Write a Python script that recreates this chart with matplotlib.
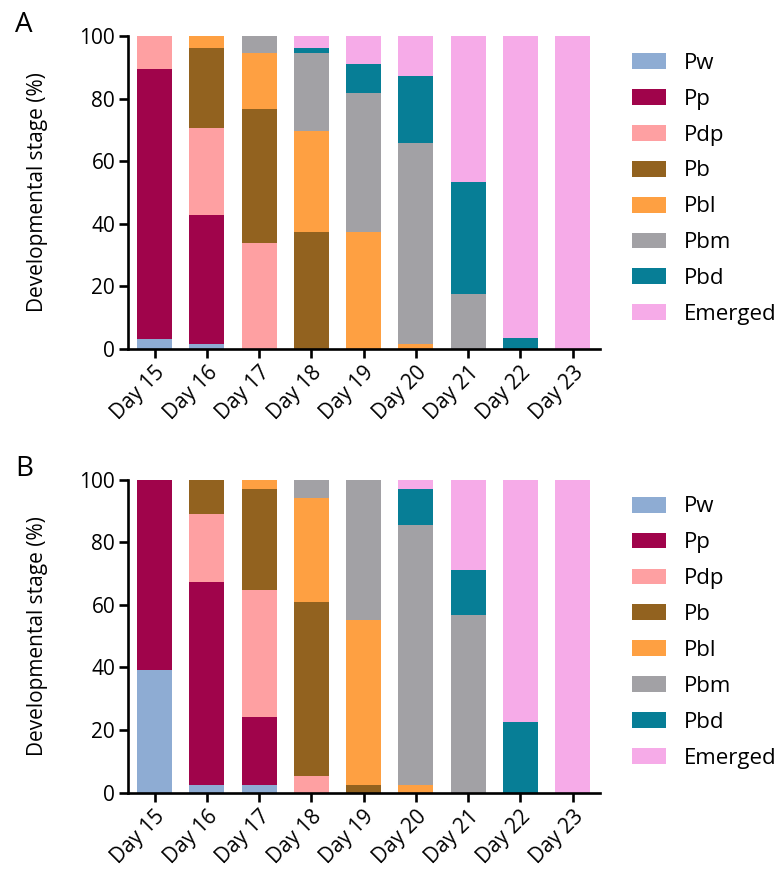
import numpy as np
import matplotlib
matplotlib.use("Agg")
import matplotlib.pyplot as plt
from matplotlib.patches import Patch

plt.rcParams['font.family'] = ['Open Sans', 'DejaVu Sans']

days = ["Day 15", "Day 16", "Day 17", "Day 18", "Day 19", "Day 20", "Day 21", "Day 22", "Day 23"]
stages = ["Pw", "Pp", "Pdp", "Pb", "Pbl", "Pbm", "Pbd", "Emerged"]
colors = ["#8eacd3", "#a0044b", "#fea0a2", "#92621f", "#fea042", "#a2a1a5", "#077e96", "#f6abe8"]

# panel A, % per stage for each day
a_pw      = [3.2, 1.6, 0, 0, 0, 0, 0, 0, 0]
a_pp      = [86.2, 41.3, 0, 0, 0, 0, 0, 0, 0]
a_pdp     = [10.6, 27.6, 33.8, 0, 0, 0, 0, 0, 0]
a_pb      = [0, 25.7, 42.8, 37.4, 0, 0, 0, 0, 0]
a_pbl     = [0, 3.8, 17.9, 32.1, 37.4, 1.7, 0, 0, 0]
a_pbm     = [0, 0, 5.5, 25.0, 44.5, 64.0, 17.7, 0, 0]
a_pbd     = [0, 0, 0, 1.7, 9.0, 21.5, 35.6, 3.5, 0]
a_emerged = [0, 0, 0, 3.8, 9.1, 12.8, 46.7, 96.5, 100]

# panel B
b_pw      = [39.2, 2.5, 2.5, 0, 0, 0, 0, 0, 0]
b_pp      = [60.8, 64.9, 21.6, 0, 0, 0, 0, 0, 0]
b_pdp     = [0, 21.7, 40.6, 5.3, 0, 0, 0, 0, 0]
b_pb      = [0, 10.9, 32.4, 55.7, 2.5, 0, 0, 0, 0]
b_pbl     = [0, 0, 2.9, 33.2, 52.8, 2.5, 0, 0, 0]
b_pbm     = [0, 0, 0, 5.8, 44.7, 83.0, 56.8, 0, 0]
b_pbd     = [0, 0, 0, 0, 0, 11.5, 14.4, 22.6, 0]
b_emerged = [0, 0, 0, 0, 0, 3.0, 28.8, 77.4, 100]

panel_a = [a_pw, a_pp, a_pdp, a_pb, a_pbl, a_pbm, a_pbd, a_emerged]
panel_b = [b_pw, b_pp, b_pdp, b_pb, b_pbl, b_pbm, b_pbd, b_emerged]

fig = plt.figure(figsize=(7.83, 8.75), dpi=100)
ax_a = fig.add_axes([0.164, 0.601, 0.602, 0.358])
ax_b = fig.add_axes([0.164, 0.094, 0.602, 0.358])

x = np.arange(len(days))
for ax, data in [(ax_a, panel_a), (ax_b, panel_b)]:
    bottom = np.zeros(len(days))
    for vals, col in zip(data, colors):
        vals = np.array(vals)
        ax.bar(x, vals, width=0.67, bottom=bottom, color=col, linewidth=0)
        bottom += vals

    ax.set_xlim(-0.5, 8.52)
    ax.set_ylim(0, 100)
    ax.set_yticks(range(0, 101, 20))
    ax.set_xticks(x)
    ax.set_xticklabels(days, rotation=45, ha="right", rotation_mode="anchor")
    ax.spines["top"].set_visible(False)
    ax.spines["right"].set_visible(False)
    for s in ["left", "bottom"]:
        ax.spines[s].set_linewidth(1.9)
    ax.tick_params(width=1.9, length=6.5, labelsize=15, pad=3)
    ax.set_ylabel("Developmental stage (%)", fontsize=15)
    ax.yaxis.set_label_coords(-0.17, 0.5)

    handles = [Patch(facecolor=c, edgecolor="none") for c in colors]
    ax.legend(handles, stages, loc="upper left", bbox_to_anchor=(1.068, 0.946),
              frameon=False, fontsize=16, handlelength=1.53, handleheight=0.72,
              labelspacing=0.67, handletextpad=0.81, borderpad=0, borderaxespad=0)

fig.text(15 / 783, 1 - 11 / 875, "A", fontsize=20, ha="left", va="top")
fig.text(15 / 783, 1 - 455 / 875, "B", fontsize=20, ha="left", va="top")

fig.savefig("out.png", dpi=100)
